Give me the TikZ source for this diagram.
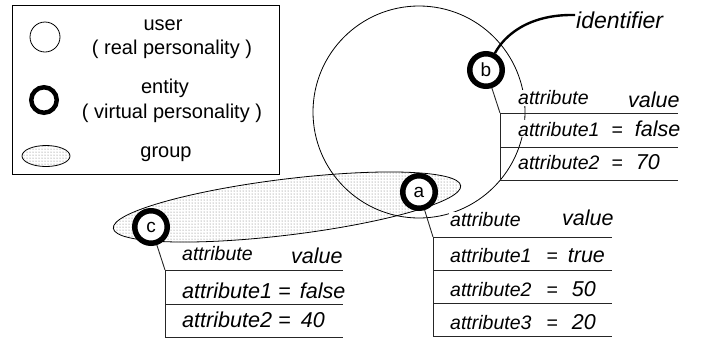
\documentclass[tikz,border=0pt]{standalone}
\usepackage{fontspec}
\setmainfont{Liberation Sans}
\usetikzlibrary{patterns,shapes.geometric}
\newcommand\valfont{\fontsize{21.5}{25}\selectfont}
\newcommand\rowtxt[4]{#1\hspace{#3}=\hspace{#4}{\valfont #2}}
\begin{document}
\begin{tikzpicture}[x=1pt,y=-1pt,
  ent/.style={circle, draw, line width=5.5pt, fill=white, minimum size=32.5pt, inner sep=0pt, font=\fontsize{19}{22}\selectfont},
  txt/.style={fill=white, inner sep=1pt, anchor=west, font=\fontsize{19.5}{23}\selectfont\itshape},
  bigtxt/.style={txt, font=\fontsize{21.6}{25}\selectfont\itshape},
  val/.style={fill=white, inner sep=1pt, anchor=west, font=\fontsize{21.5}{25}\selectfont\itshape},
  leg/.style={inner sep=0pt, font=\fontsize{20}{24}\selectfont},
  tline/.style={line width=0.9pt, draw=black!85},
  thin/.style={line width=0.8pt},
  dotsfill/.style={pattern=dots, pattern color=black!60},
]
\useasboundingbox (0,0) rectangle (704,341);

% legend
\node[draw, thin, minimum width=267pt, minimum height=169pt, anchor=north west, inner sep=0pt] (legend) at (12,5) {};
\node[circle, draw, thin, minimum size=30pt, inner sep=0pt] (lu) at (45,37) {};
\node[circle, draw, line width=4.5pt, minimum size=25.5pt, inner sep=0pt] (le) at (44,100) {};
\node[ellipse, draw, thin, dotsfill, minimum width=48pt, minimum height=21pt, inner sep=0pt] (lg) at (46,156) {};
\node[leg] (lut) at (163,25) {user};
\node[leg] (lup) at (172,49) {( real personality )};
\node[leg] (let) at (165,88) {entity};
\node[leg] (lep) at (172,113) {( virtual personality )};
\node[leg] (lgt) at (166,154) {group};

% group ellipse and user circle
\node[ellipse, draw, thin, dotsfill, rotate=7, minimum width=350pt, minimum height=56pt, inner sep=0pt] (grp) at (287,207) {};
\node[circle, draw, thin, minimum size=212pt, inner sep=0pt] (usr) at (419,112) {};

% table b
\node[txt] (bh) at (517,98) {attribute};
\node[val] (bv) at (627,99.5) {value};
\node[txt] (b1) at (517,128.5) {\rowtxt{attribute1}{false}{12pt}{12pt}};
\node[txt] (b2) at (517,162) {\rowtxt{attribute2}{70}{12pt}{13pt}};
\coordinate (bT) at (500,113);
\coordinate (bB) at (500,180.5);
\draw[tline] (bT) -- (bB);
\draw[tline] (bT) -- (678,113);
\draw[tline] (500,147) -- (678,147);
\draw[tline] (bB) -- (678,180.5);

% table a
\node[txt] (ah) at (449,220) {attribute};
\node[val] (av) at (561,218) {value};
\node[txt] (a1) at (449,255.5) {\rowtxt{attribute1}{true}{15pt}{10pt}};
\node[txt] (a2) at (449,289) {\rowtxt{attribute2}{50}{15pt}{14pt}};
\node[txt] (a3) at (449,322) {\rowtxt{attribute3}{20}{15pt}{14pt}};
\coordinate (aT) at (433,237);
\coordinate (aB) at (433,336.5);
\draw[tline] (aT) -- (aB);
\draw[tline] (aT) -- (612,237);
\draw[tline] (433,270) -- (612,270);
\draw[tline] (433,303.5) -- (612,303.5);
\draw[tline] (aB) -- (612,336.5);

% table c
\node[txt] (ch) at (181,253.5) {attribute};
\node[val] (cv) at (290,255.5) {value};
\node[bigtxt] (c1) at (181,291) {\rowtxt{attribute1}{false}{6pt}{9pt}};
\node[bigtxt] (c2) at (181,320) {\rowtxt{attribute2}{40}{6pt}{10pt}};
\coordinate (cT) at (165,270);
\coordinate (cB) at (165,337);
\draw[tline] (cT) -- (cB);
\draw[tline] (cT) -- (343,270);
\draw[tline] (165,304) -- (343,304);
\draw[tline] (cB) -- (343,337);

% entities
\node[ent] (b) at (486,70) {b};
\node[ent] (a) at (419,192) {a};
\node[ent] (c) at (151,227) {c};

% connectors
\draw[tline] (b) -- (bT);
\draw[tline] (a) -- (aT);
\draw[tline] (c) -- (cT);

\node[txt, fill=none, font=\fontsize{23}{27}\selectfont\itshape] (id) at (575,20) {identifier};
\draw[line width=2.4pt] (b.62) .. controls (504,36) and (528,14) .. ([yshift=5pt]id.west);
\end{tikzpicture}
\end{document}
